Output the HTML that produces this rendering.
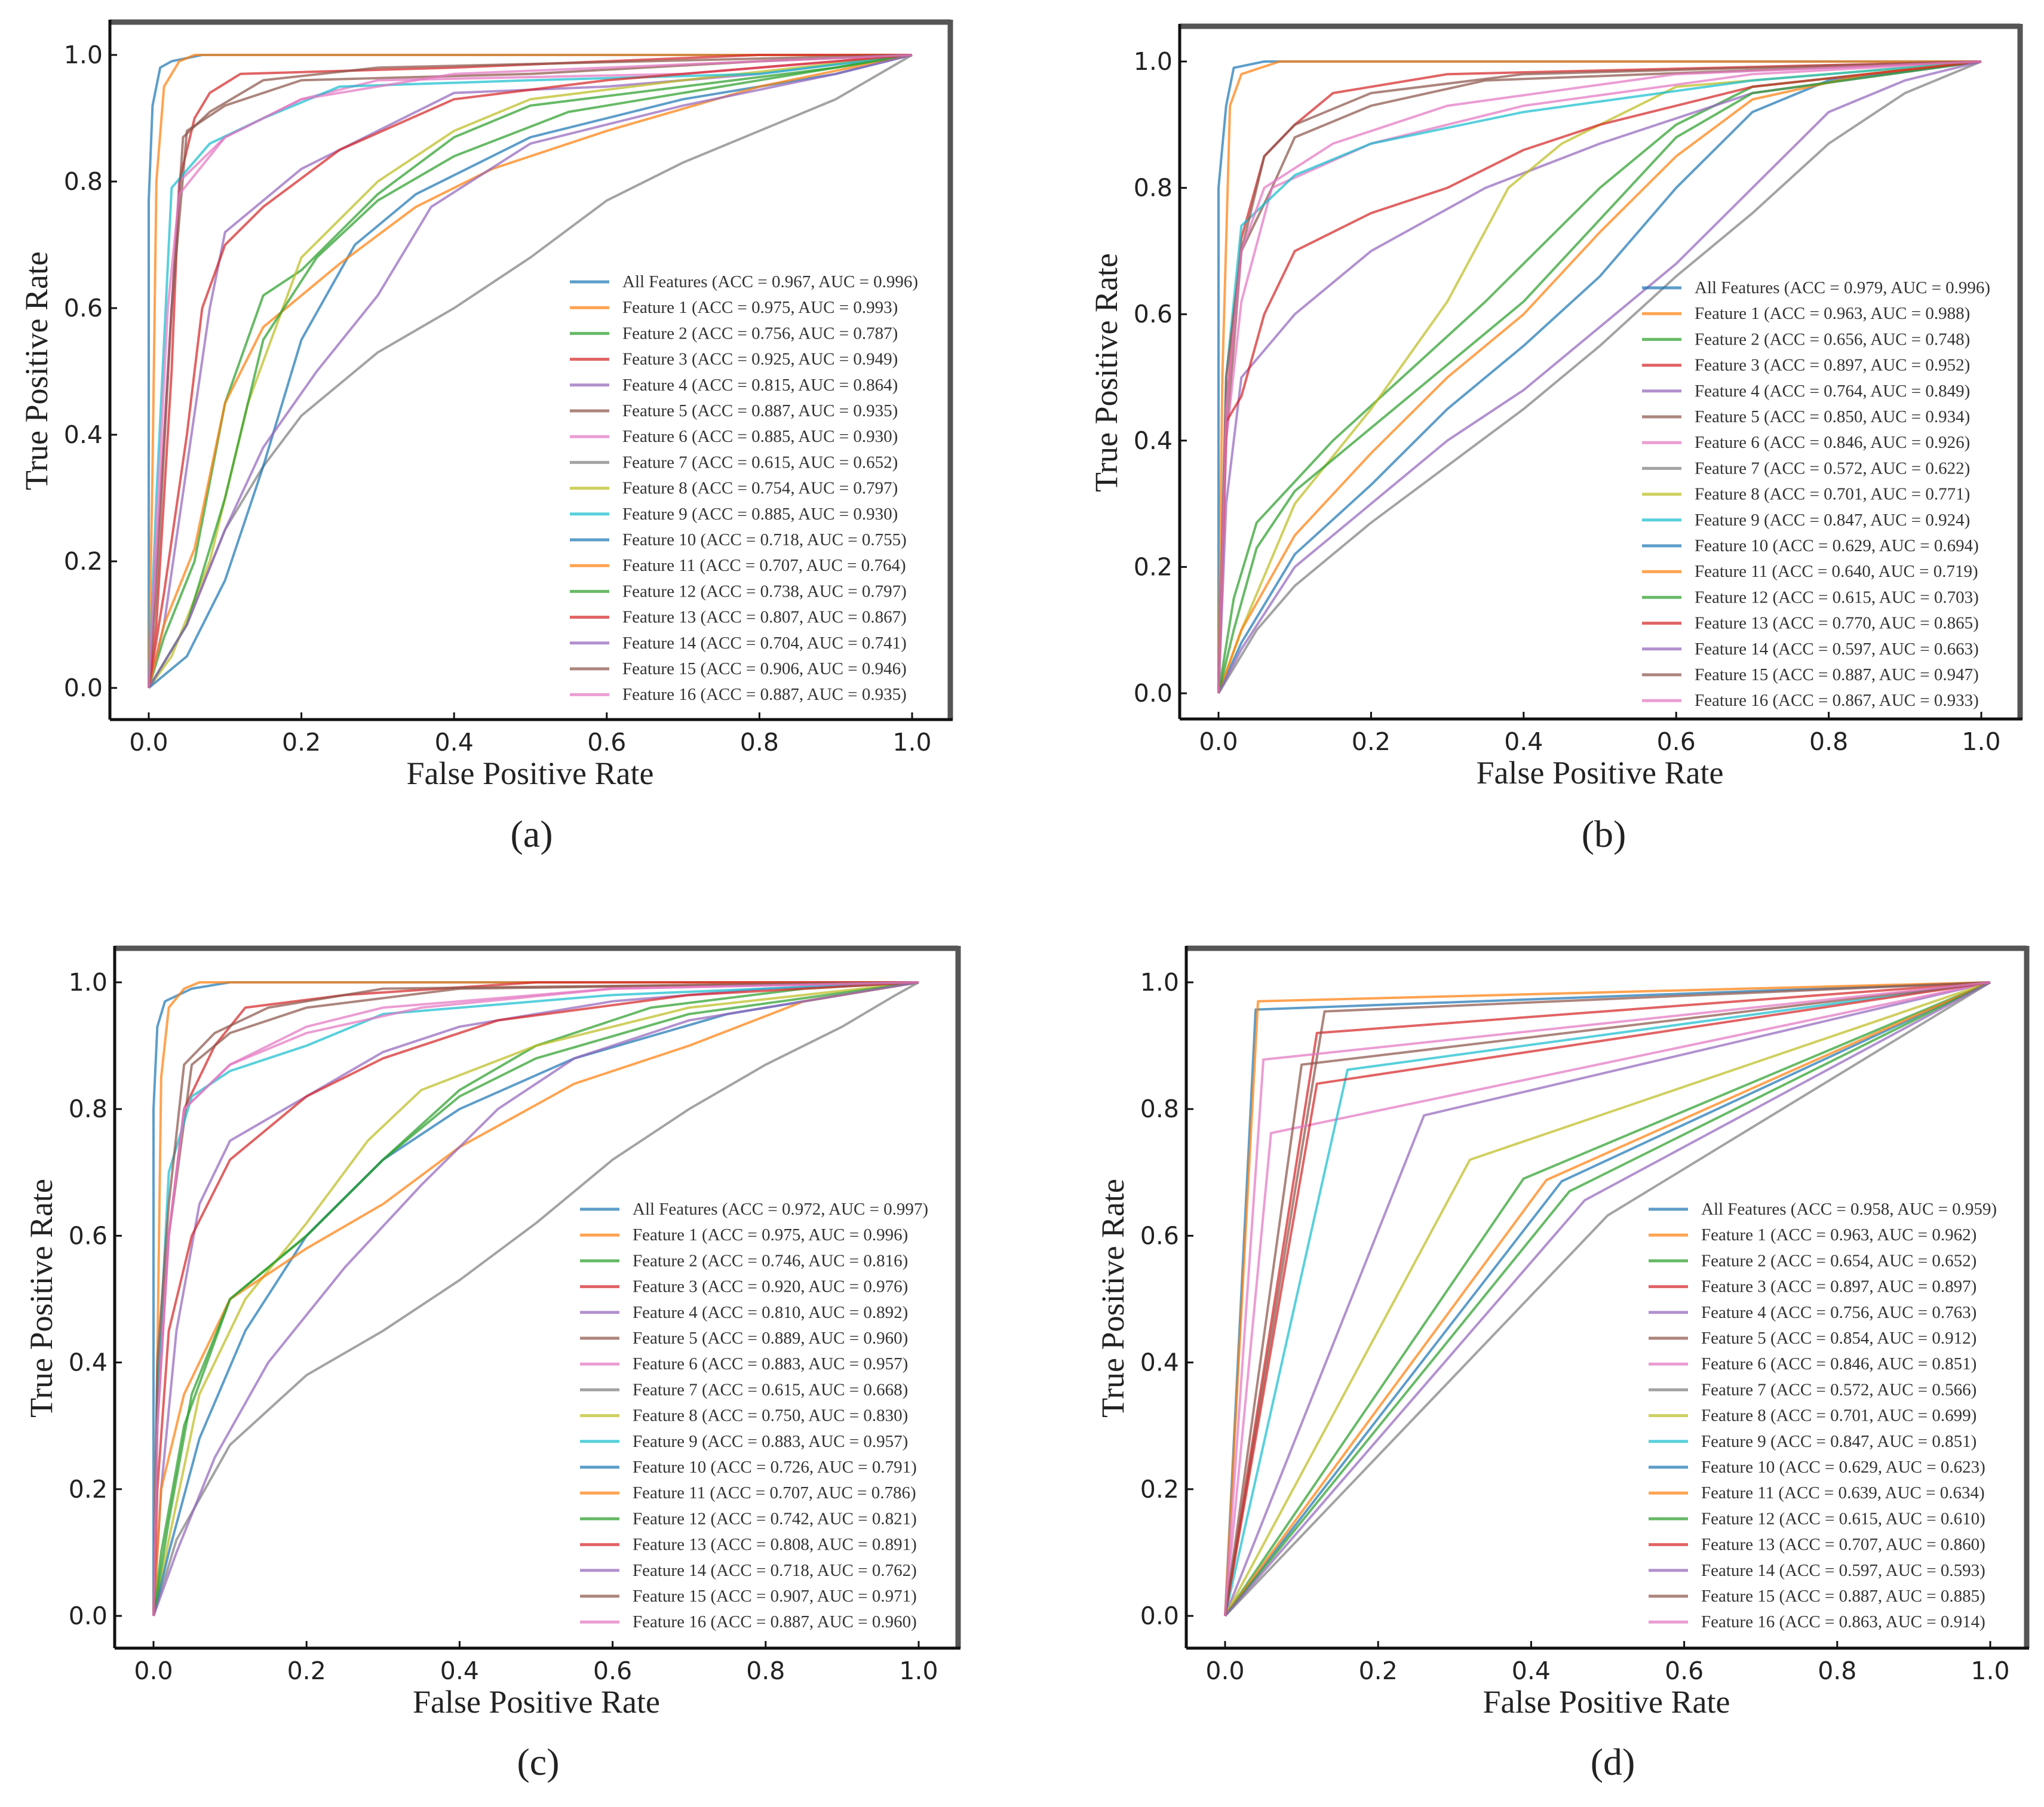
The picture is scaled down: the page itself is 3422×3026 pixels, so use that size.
<!DOCTYPE html>
<html><head><meta charset="utf-8">
<style>
html,body{margin:0;padding:0;background:#fff;}
svg{display:block;}
</style></head>
<body>
<svg id="fig" width="3422" height="3026" viewBox="0 0 3422 3026" xmlns="http://www.w3.org/2000/svg"></svg>
<script>
const seriesColors = ["#1f77b4","#ff7f0e","#2ca02c","#d62728","#9467bd","#8c564b","#e377c2","#7f7f7f","#bcbd22","#17becf","#1f77b4","#ff7f0e","#2ca02c","#d62728","#9467bd","#8c564b","#e377c2"];
const seriesNames = ["All Features","Feature 1","Feature 2","Feature 3","Feature 4","Feature 5","Feature 6","Feature 7","Feature 8","Feature 9","Feature 10","Feature 11","Feature 12","Feature 13","Feature 14","Feature 15","Feature 16"];
const xTicks = [0,0.2,0.4,0.6,0.8,1.0];
const yTicks = [0,0.2,0.4,0.6,0.8,1.0];

const accA = ["0.967","0.975","0.756","0.925","0.815","0.887","0.885","0.615","0.754","0.885","0.718","0.707","0.738","0.807","0.704","0.906","0.887"];
const aucA = ["0.996","0.993","0.787","0.949","0.864","0.935","0.930","0.652","0.797","0.930","0.755","0.764","0.797","0.867","0.741","0.946","0.935"];
const accB = ["0.979","0.963","0.656","0.897","0.764","0.850","0.846","0.572","0.701","0.847","0.629","0.640","0.615","0.770","0.597","0.887","0.867"];
const aucB = ["0.996","0.988","0.748","0.952","0.849","0.934","0.926","0.622","0.771","0.924","0.694","0.719","0.703","0.865","0.663","0.947","0.933"];
const accC = ["0.972","0.975","0.746","0.920","0.810","0.889","0.883","0.615","0.750","0.883","0.726","0.707","0.742","0.808","0.718","0.907","0.887"];
const aucC = ["0.997","0.996","0.816","0.976","0.892","0.960","0.957","0.668","0.830","0.957","0.791","0.786","0.821","0.891","0.762","0.971","0.960"];
const accD = ["0.958","0.963","0.654","0.897","0.756","0.854","0.846","0.572","0.701","0.847","0.629","0.639","0.615","0.707","0.597","0.887","0.863"];
const aucD = ["0.959","0.962","0.652","0.897","0.763","0.912","0.851","0.566","0.699","0.851","0.623","0.634","0.610","0.860","0.593","0.885","0.914"];

const curvesA = [
 [[0,0],[0,0.77],[0.005,0.92],[0.015,0.98],[0.03,0.99],[0.07,1],[1,1]],
 [[0,0],[0.005,0.35],[0.01,0.8],[0.02,0.95],[0.04,0.99],[0.06,1],[1,1]],
 [[0,0],[0.02,0.08],[0.06,0.2],[0.1,0.45],[0.15,0.62],[0.2,0.66],[0.3,0.78],[0.4,0.87],[0.5,0.92],[0.7,0.95],[0.9,0.98],[1,1]],
 [[0,0],[0.01,0.1],[0.03,0.5],[0.04,0.8],[0.06,0.9],[0.08,0.94],[0.12,0.97],[0.4,0.98],[0.8,1],[1,1]],
 [[0,0],[0.02,0.1],[0.05,0.35],[0.08,0.6],[0.1,0.72],[0.2,0.82],[0.3,0.88],[0.4,0.94],[0.6,0.95],[0.8,0.97],[1,1]],
 [[0,0],[0.01,0.2],[0.03,0.6],[0.05,0.88],[0.1,0.92],[0.2,0.96],[0.5,0.97],[0.8,0.99],[1,1]],
 [[0,0],[0.01,0.2],[0.03,0.6],[0.04,0.8],[0.1,0.87],[0.2,0.93],[0.3,0.96],[0.7,0.97],[1,1]],
 [[0,0],[0.05,0.1],[0.1,0.25],[0.15,0.35],[0.2,0.43],[0.3,0.53],[0.4,0.6],[0.5,0.68],[0.6,0.77],[0.7,0.83],[0.8,0.88],[0.9,0.93],[1,1]],
 [[0,0],[0.03,0.05],[0.08,0.2],[0.13,0.45],[0.2,0.68],[0.3,0.8],[0.4,0.88],[0.5,0.93],[0.7,0.96],[1,1]],
 [[0,0],[0.01,0.3],[0.03,0.79],[0.08,0.86],[0.15,0.9],[0.25,0.95],[0.5,0.96],[0.8,0.97],[1,1]],
 [[0,0],[0.05,0.05],[0.1,0.17],[0.15,0.35],[0.2,0.55],[0.27,0.7],[0.35,0.78],[0.5,0.87],[0.7,0.93],[0.9,0.97],[1,1]],
 [[0,0],[0.02,0.1],[0.06,0.22],[0.1,0.45],[0.15,0.57],[0.25,0.67],[0.35,0.76],[0.45,0.82],[0.6,0.88],[0.8,0.95],[1,1]],
 [[0,0],[0.05,0.1],[0.1,0.3],[0.15,0.55],[0.22,0.68],[0.3,0.77],[0.4,0.84],[0.55,0.91],[0.75,0.95],[1,1]],
 [[0,0],[0.02,0.15],[0.05,0.4],[0.07,0.6],[0.1,0.7],[0.15,0.76],[0.25,0.85],[0.4,0.93],[0.6,0.96],[0.9,0.99],[1,1]],
 [[0,0],[0.05,0.1],[0.1,0.25],[0.15,0.38],[0.22,0.5],[0.3,0.62],[0.37,0.76],[0.5,0.86],[0.7,0.92],[0.9,0.97],[1,1]],
 [[0,0],[0.01,0.15],[0.03,0.6],[0.045,0.87],[0.08,0.91],[0.15,0.96],[0.3,0.98],[1,1]],
 [[0,0],[0.01,0.25],[0.025,0.6],[0.04,0.78],[0.1,0.87],[0.2,0.93],[0.4,0.97],[1,1]]
];
const curvesB = [
 [[0,0],[0,0.8],[0.01,0.93],[0.02,0.99],[0.06,1],[1,1]],
 [[0,0],[0.005,0.5],[0.015,0.93],[0.03,0.98],[0.08,1],[1,1]],
 [[0,0],[0.02,0.15],[0.05,0.27],[0.15,0.4],[0.35,0.62],[0.5,0.8],[0.6,0.9],[0.7,0.96],[1,1]],
 [[0,0],[0.01,0.45],[0.03,0.72],[0.06,0.85],[0.1,0.9],[0.15,0.95],[0.3,0.98],[1,1]],
 [[0,0],[0.01,0.3],[0.03,0.5],[0.1,0.6],[0.2,0.7],[0.35,0.8],[0.5,0.87],[0.7,0.95],[1,1]],
 [[0,0],[0.01,0.4],[0.03,0.7],[0.07,0.8],[0.1,0.88],[0.2,0.93],[0.35,0.97],[1,1]],
 [[0,0],[0.01,0.4],[0.03,0.62],[0.07,0.8],[0.2,0.87],[0.4,0.93],[0.7,0.98],[1,1]],
 [[0,0],[0.05,0.1],[0.1,0.17],[0.2,0.27],[0.3,0.36],[0.4,0.45],[0.5,0.55],[0.6,0.66],[0.7,0.76],[0.8,0.87],[0.9,0.95],[1,1]],
 [[0,0],[0.03,0.1],[0.1,0.3],[0.2,0.45],[0.3,0.62],[0.38,0.8],[0.45,0.87],[0.6,0.96],[1,1]],
 [[0,0],[0.01,0.5],[0.03,0.74],[0.1,0.82],[0.2,0.87],[0.4,0.92],[0.7,0.97],[1,1]],
 [[0,0],[0.03,0.08],[0.1,0.22],[0.2,0.33],[0.3,0.45],[0.4,0.55],[0.5,0.66],[0.6,0.8],[0.7,0.92],[0.8,0.97],[1,1]],
 [[0,0],[0.03,0.1],[0.1,0.25],[0.2,0.38],[0.3,0.5],[0.4,0.6],[0.5,0.73],[0.6,0.85],[0.7,0.94],[0.85,0.98],[1,1]],
 [[0,0],[0.02,0.1],[0.05,0.23],[0.1,0.32],[0.2,0.42],[0.3,0.52],[0.4,0.62],[0.5,0.75],[0.6,0.88],[0.7,0.95],[1,1]],
 [[0,0],[0.01,0.43],[0.03,0.47],[0.06,0.6],[0.1,0.7],[0.2,0.76],[0.3,0.8],[0.4,0.86],[0.5,0.9],[0.7,0.96],[1,1]],
 [[0,0],[0.03,0.07],[0.1,0.2],[0.2,0.3],[0.3,0.4],[0.4,0.48],[0.5,0.58],[0.6,0.68],[0.7,0.8],[0.8,0.92],[0.9,0.97],[1,1]],
 [[0,0],[0.01,0.5],[0.03,0.7],[0.06,0.85],[0.1,0.9],[0.2,0.95],[0.4,0.98],[1,1]],
 [[0,0],[0.01,0.45],[0.03,0.7],[0.06,0.8],[0.15,0.87],[0.3,0.93],[0.6,0.98],[1,1]]
];
const curvesC = [
 [[0,0],[0,0.8],[0.005,0.93],[0.015,0.97],[0.05,0.99],[0.1,1],[1,1]],
 [[0,0],[0.005,0.4],[0.01,0.85],[0.02,0.96],[0.04,0.99],[0.06,1],[1,1]],
 [[0,0],[0.01,0.1],[0.04,0.3],[0.1,0.5],[0.2,0.6],[0.3,0.72],[0.4,0.83],[0.5,0.9],[0.65,0.96],[0.85,0.99],[1,1]],
 [[0,0],[0.005,0.35],[0.02,0.6],[0.04,0.8],[0.08,0.9],[0.12,0.96],[0.25,0.98],[0.5,1],[1,1]],
 [[0,0],[0.01,0.2],[0.03,0.45],[0.06,0.65],[0.1,0.75],[0.2,0.82],[0.3,0.89],[0.4,0.93],[0.6,0.97],[0.8,0.99],[1,1]],
 [[0,0],[0.005,0.3],[0.02,0.6],[0.05,0.87],[0.1,0.92],[0.2,0.96],[0.4,0.99],[1,1]],
 [[0,0],[0.005,0.3],[0.02,0.6],[0.04,0.8],[0.1,0.87],[0.2,0.93],[0.3,0.96],[0.6,0.99],[1,1]],
 [[0,0],[0.03,0.12],[0.1,0.27],[0.2,0.38],[0.3,0.45],[0.4,0.53],[0.5,0.62],[0.6,0.72],[0.7,0.8],[0.8,0.87],[0.9,0.93],[0.97,0.98],[1,1]],
 [[0,0],[0.02,0.12],[0.06,0.35],[0.12,0.5],[0.2,0.62],[0.28,0.75],[0.35,0.83],[0.5,0.9],[0.7,0.96],[1,1]],
 [[0,0],[0.005,0.35],[0.02,0.7],[0.05,0.82],[0.1,0.86],[0.2,0.9],[0.3,0.95],[0.6,0.98],[1,1]],
 [[0,0],[0.02,0.1],[0.06,0.28],[0.12,0.45],[0.2,0.6],[0.3,0.72],[0.4,0.8],[0.55,0.88],[0.75,0.95],[1,1]],
 [[0,0],[0.01,0.2],[0.04,0.35],[0.1,0.5],[0.2,0.58],[0.3,0.65],[0.4,0.74],[0.55,0.84],[0.7,0.9],[0.85,0.97],[1,1]],
 [[0,0],[0.02,0.15],[0.05,0.35],[0.1,0.5],[0.2,0.6],[0.3,0.72],[0.4,0.82],[0.5,0.88],[0.7,0.95],[1,1]],
 [[0,0],[0.005,0.2],[0.02,0.45],[0.05,0.6],[0.1,0.72],[0.2,0.82],[0.3,0.88],[0.45,0.94],[0.7,0.98],[1,1]],
 [[0,0],[0.03,0.1],[0.08,0.25],[0.15,0.4],[0.25,0.55],[0.35,0.68],[0.45,0.8],[0.55,0.88],[0.7,0.94],[0.9,0.98],[1,1]],
 [[0,0],[0.005,0.4],[0.02,0.65],[0.04,0.87],[0.08,0.92],[0.15,0.96],[0.3,0.99],[1,1]],
 [[0,0],[0.005,0.3],[0.02,0.6],[0.04,0.8],[0.1,0.87],[0.2,0.92],[0.35,0.96],[0.6,0.99],[1,1]]
];
const curvesD = [
 [[0,0],[0.04,0.957],[1,1]],
 [[0,0],[0.043,0.97],[1,1]],
 [[0,0],[0.39,0.69],[1,1]],
 [[0,0],[0.12,0.92],[1,1]],
 [[0,0],[0.26,0.79],[1,1]],
 [[0,0],[0.13,0.954],[1,1]],
 [[0,0],[0.06,0.762],[1,1]],
 [[0,0],[0.5,0.632],[1,1]],
 [[0,0],[0.32,0.72],[1,1]],
 [[0,0],[0.16,0.862],[1,1]],
 [[0,0],[0.44,0.686],[1,1]],
 [[0,0],[0.42,0.688],[1,1]],
 [[0,0],[0.45,0.67],[1,1]],
 [[0,0],[0.12,0.84],[1,1]],
 [[0,0],[0.47,0.656],[1,1]],
 [[0,0],[0.1,0.87],[1,1]],
 [[0,0],[0.05,0.878],[1,1]]
];
const panelLabels = ["(a)","(b)","(c)","(d)"];

const NS = "http://www.w3.org/2000/svg";
const svg = document.getElementById("fig");
function el(tag, attrs, parent){
  const e = document.createElementNS(NS, tag);
  for (const k in attrs) e.setAttribute(k, attrs[k]);
  (parent||svg).appendChild(e);
  return e;
}
const layouts = [
 {box:[184,37,1591,1205], x0:249, x1:1527, y1:92, y0:1152, legX:954, legY:472, label:[890,1418]},
 {box:[1975,44,3382,1204], x0:2040, x1:3317, y1:103, y0:1161, legX:2749, legY:482, label:[2685,1418]},
 {box:[192,1588,1604,2760], x0:257, x1:1538, y1:1645, y0:2706, legX:971, legY:2025, label:[901,2972]},
 {box:[1986,1588,3393,2760], x0:2051, x1:3332, y1:1645, y0:2706, legX:2760, legY:2025, label:[2700,2972]}
];
const allCurves = [curvesA, curvesB, curvesC, curvesD];
const allAcc = [accA, accB, accC, accD];
const allAuc = [aucA, aucB, aucC, aucD];

layouts.forEach((L, p) => {
  const g = el("g", {});
  
  
  const sx = v => L.x0 + v * (L.x1 - L.x0);
  const sy = v => L.y0 - v * (L.y0 - L.y1);
  const [bl, bt, br, bb] = L.box;
  const cg = el("g", {}, g);
  
  
  allCurves[p].forEach((pts, i) => {
    const d = pts.map((pt, j) => (j ? "L" : "M") + sx(pt[0]).toFixed(1) + " " + sy(pt[1]).toFixed(1)).join(" ");
    const path = el("path", {d: d, fill: "none", stroke: seriesColors[i], "stroke-width": 4, "stroke-opacity": 0.72, "stroke-linejoin": "round"}, cg);
    
    
  });
  const fr = el("g", {}, g);
  
  
  el("line", {x1: bl, y1: bt, x2: br, y2: bt, stroke: "#555", "stroke-width": 9}, fr);
  el("line", {x1: br, y1: bt - 4, x2: br, y2: bb, stroke: "#555", "stroke-width": 9}, fr);
  el("line", {x1: bl, y1: bt - 4, x2: bl, y2: bb, stroke: "#111", "stroke-width": 5}, fr);
  el("line", {x1: bl, y1: bb, x2: br + 4, y2: bb, stroke: "#111", "stroke-width": 5}, fr);
  xTicks.forEach(t => {
    const x = sx(t);
    el("line", {x1: x, y1: bb, x2: x, y2: bb - 12, stroke: "#111", "stroke-width": 3}, fr);
    const tx = el("text", {x: x, y: bb + 52, "text-anchor": "middle", "font-family": "DejaVu Sans, sans-serif", "font-size": 41, fill: "#222"}, g);
    tx.textContent = t.toFixed(1);
    
    
  });
  yTicks.forEach(t => {
    const y = sy(t);
    el("line", {x1: bl, y1: y, x2: bl + 12, y2: y, stroke: "#111", "stroke-width": 3}, fr);
    const tx = el("text", {x: bl - 12, y: y + 14, "text-anchor": "end", "font-family": "DejaVu Sans, sans-serif", "font-size": 41, fill: "#222"}, g);
    tx.textContent = t.toFixed(1);
    
    
  });
  const xt = el("text", {x: (bl + br) / 2, y: bb + 108, "text-anchor": "middle", "font-family": "Liberation Serif, serif", "font-size": 54, fill: "#222"}, g);
  xt.textContent = "False Positive Rate";
  
  
  const yc = (bt + bb) / 2;
  const yx = bl - 105;
  const yt = el("text", {x: yx, y: yc, "text-anchor": "middle", "font-family": "Liberation Serif, serif", "font-size": 54, fill: "#222", transform: "rotate(-90 " + yx + " " + yc + ")"}, g);
  yt.textContent = "True Positive Rate";
  
  
  const lg = el("g", {}, g);
  
  
  seriesNames.forEach((nm, i) => {
    const y = L.legY + i * 43.2;
    const ent = el("g", {}, lg);
    
    
    el("line", {x1: L.legX, y1: y, x2: L.legX + 66, y2: y, stroke: seriesColors[i], "stroke-width": 5, "stroke-opacity": 0.72}, ent);
    const t = el("text", {x: L.legX + 88, y: y + 9, "font-family": "Liberation Serif, serif", "font-size": 29, fill: "#333"}, ent);
    t.textContent = nm + " (ACC = " + allAcc[p][i] + ", AUC = " + allAuc[p][i] + ")";
  });
  const pl = el("text", {x: L.label[0], y: L.label[1], "text-anchor": "middle", "font-family": "Liberation Serif, serif", "font-size": 64, fill: "#222"}, g);
  pl.textContent = panelLabels[p];
  
  
});
</script>
</body></html>
